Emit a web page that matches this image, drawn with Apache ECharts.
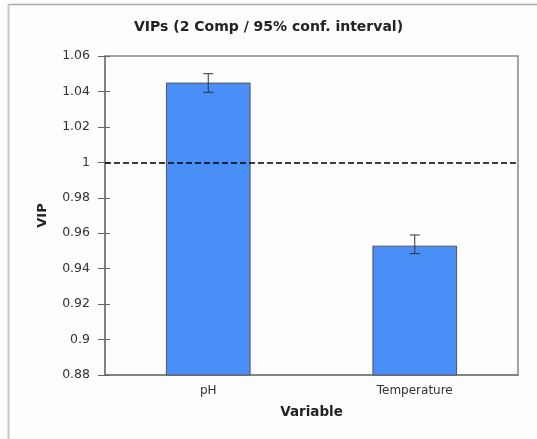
<!DOCTYPE html>
<html>
<head>
<meta charset="utf-8">
<script src="https://cdn.jsdelivr.net/npm/echarts@6/dist/echarts.min.js"></script>
<style>
html,body{margin:0;padding:0;background:#fdfdfd;}
#c{width:537px;height:439px;}
</style>
</head>
<body>
<div id="c"></div>
<script>
var categories = ['pH', 'Temperature'];
var vipValues = [1.045, 0.953];
var ciLow = [1.0395, 0.9485];
var ciHigh = [1.0500, 0.9590];
var yTicks = [0.88, 0.9, 0.92, 0.94, 0.96, 0.98, 1, 1.02, 1.04, 1.06];
var refValue = 1;

var chart = echarts.init(document.getElementById('c'));
var font = 'DejaVu Sans';
var yMin = yTicks[0], yMax = yTicks[yTicks.length - 1];

var errData = categories.map(function (c, i) { return [i, ciLow[i], ciHigh[i]]; });

var option = {
  backgroundColor: '#fdfdfd',
  animation: false,
  title: {
    text: 'VIPs (2 Comp / 95% conf. interval)',
    left: 'center', top: 15,
    textStyle: { fontFamily: font, fontSize: 14, fontWeight: 'bold', color: '#222' }
  },
  graphic: [
    { type: 'line', shape: { x1: 8, y1: 4.5, x2: 537, y2: 4.5 }, style: { stroke: '#aaa', lineWidth: 1.5 } },
    { type: 'line', shape: { x1: 8.5, y1: 4, x2: 8.5, y2: 439 }, style: { stroke: '#c8c8c8', lineWidth: 2 } }
  ],
  grid: {
    left: 105, right: 19, top: 56, bottom: 64,
    show: true, borderColor: '#888', borderWidth: 1.5, backgroundColor: 'transparent'
  },
  xAxis: {
    type: 'category',
    data: categories,
    name: 'Variable',
    nameLocation: 'middle',
    nameGap: 30,
    nameTextStyle: { fontFamily: font, fontSize: 13.5, fontWeight: 'bold', color: '#222' },
    axisLine: { lineStyle: { color: '#777', width: 1.5 } },
    axisTick: { show: false },
    axisLabel: { fontFamily: font, fontSize: 12, color: '#333', margin: 10 }
  },
  yAxis: [{
    type: 'value',
    min: yMin, max: yMax, interval: 0.02,
    name: 'VIP',
    nameLocation: 'middle',
    nameGap: 56,
    nameRotate: 90,
    nameTextStyle: { fontFamily: font, fontSize: 13, fontWeight: 'bold', color: '#222' },
    splitLine: { show: false },
    axisLine: { show: true, lineStyle: { color: '#777', width: 1.5 } },
    axisTick: { show: true, length: 7, lineStyle: { color: '#666' } },
    axisLabel: {
      fontFamily: font, fontSize: 12.5, color: '#333', margin: 15,
      formatter: function (v) { return String(parseFloat(v.toFixed(2))); }
    }
  }, {
    type: 'value',
    position: 'left',
    offset: 0,
    min: yMin, max: yMax, interval: 0.02,
    splitLine: { show: false },
    axisLine: { show: false },
    axisTick: { show: true, inside: true, length: 5, lineStyle: { color: '#666' } },
    axisLabel: { show: false }
  }],
  series: [{
    type: 'bar',
    data: vipValues,
    barWidth: '41%',
    itemStyle: { color: '#4a8ef8', borderColor: '#555', borderWidth: 1 },
    markLine: {
      silent: true,
      symbol: 'none',
      label: { show: false },
      lineStyle: { color: '#000', type: [6, 3], width: 1.5 },
      data: [{ yAxis: refValue }]
    }
  }, {
    type: 'custom',
    data: errData,
    z: 10,
    renderItem: function (params, api) {
      var x = api.value(0);
      var lo = api.coord([x, api.value(1)]);
      var hi = api.coord([x, api.value(2)]);
      var hw = 5;
      var st = { stroke: '#333', lineWidth: 1 };
      return {
        type: 'group',
        children: [
          { type: 'line', shape: { x1: lo[0], y1: lo[1], x2: hi[0], y2: hi[1] }, style: st },
          { type: 'line', shape: { x1: lo[0] - hw, y1: lo[1], x2: lo[0] + hw, y2: lo[1] }, style: st },
          { type: 'line', shape: { x1: hi[0] - hw, y1: hi[1], x2: hi[0] + hw, y2: hi[1] }, style: st }
        ]
      };
    }
  }]
};
chart.setOption(option);
</script>
</body>
</html>
